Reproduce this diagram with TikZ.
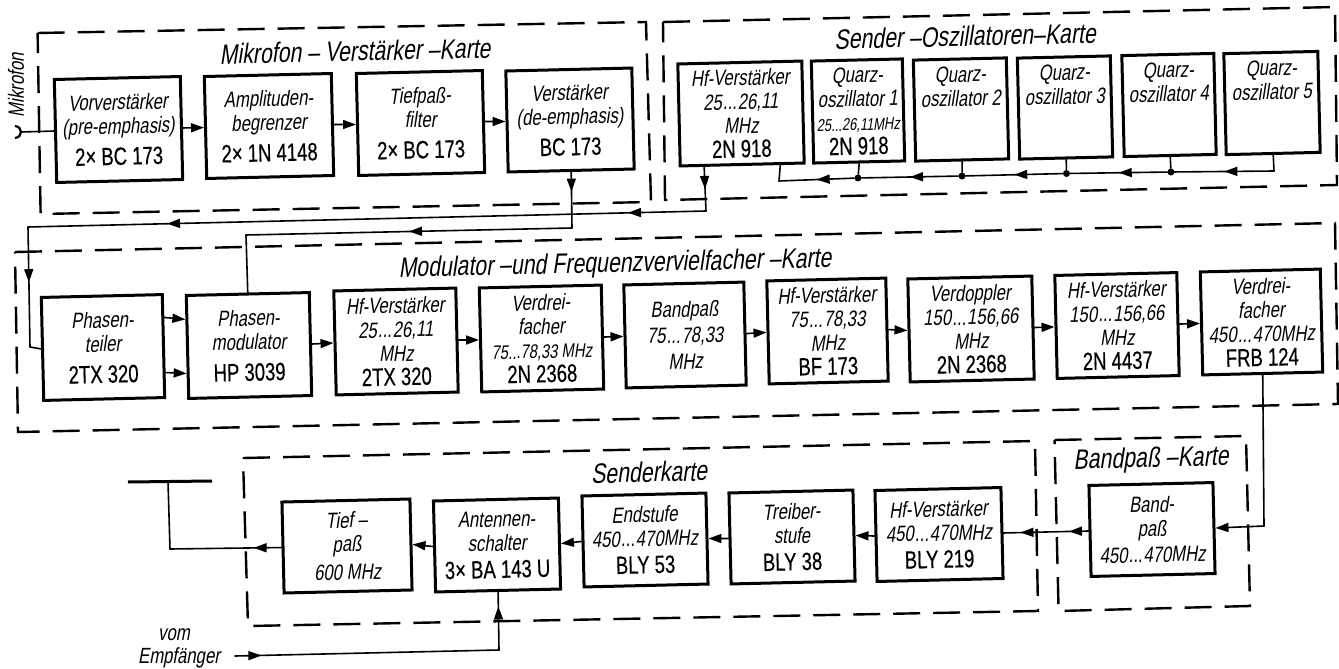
\documentclass[tikz,border=0pt]{standalone}
\usepackage{fontspec}
\usetikzlibrary{arrows.meta,calc,decorations.markings}
\setmainfont{Liberation Sans}
\newfontfamily\itf[FakeSlant=.18,FakeStretch=.76]{Liberation Sans}
\newfontfamily\upf[FakeStretch=.74,FakeBold=.4]{Liberation Sans}
\newcommand{\IT}{\itf\fontsize{22}{24}\selectfont}
\newcommand{\UP}[1]{{\upf\fontsize{25}{24}\selectfont #1}}
\newcommand{\SM}[1]{{\itf\fontsize{19.5}{24}\selectfont #1}}
\newcommand{\dd}{\kern1pt...\kern1pt}
\tikzset{
  x=1pt,y=-1pt,
  >={Triangle[length=13pt,width=9pt]},
  card/.style={line width=2.4pt,dash pattern=on 27pt off 13pt,line join=miter},
  box/.style={draw,line width=3pt,rotate=1.35,align=center,font=\IT,inner sep=0pt,minimum width=#1},
  box/.default=124pt,
  wire/.style={line width=1.6pt,line cap=round},
  mid/.style={postaction={decorate,decoration={markings,mark=at position #1 with {\arrow{>}}}}},
  dot/.style={circle,fill=black,inner sep=0pt,minimum size=7pt},
  title/.style={font=\itf\fontsize{28}{28}\selectfont,rotate=1.35,inner sep=0pt},
}
\begin{document}
\begin{tikzpicture}
\useasboundingbox (0,0) rectangle (1339,669);
% cards
\draw[card] (37.6,33) -- (646,22) -- (651,202) -- (40.6,214) -- cycle;
\draw[card] (663,22) -- (1335,7) -- (1337,185) -- (665,200) -- cycle;
\draw[card] (15,252) -- (1335,223) -- (1338,404) -- (18,432) -- cycle;
\draw[card] (243,458) -- (1035,441) -- (1038,611) -- (248,626) -- cycle;
\draw[card] (1054.5,440) -- (1246,436) -- (1250,606) -- (1058.6,611) -- cycle;
% titles
\node[title] (t1) at (355,51) {Mikrofon – Verstärker –Karte};
\node[title] (t2) at (965,36) {Sender –Oszillatoren–Karte};
\node[title] (t3) at (615,265) {Modulator –und Frequenzvervielfacher –Karte};
\node[title] (t4) at (649,472) {Senderkarte};
\node[title] (t5) at (1151,460) {Bandpaß –Karte};
\node[font=\IT,rotate=90,inner sep=0pt] (mictext) at (16,85) {Mikrofon};
\node[font=\IT,inner sep=0pt] (vom) at (174,635) {vom};
\node[font=\IT,inner sep=0pt] (emp) at (179,658) {Empfänger};
% mic card boxes
\node[box=126pt,minimum height=103pt] (B1) at (118.5,129.5) {Vorverstärker\\(pre-emphasis)\\[7pt]\UP{2× BC 173}};
\node[box=127pt,minimum height=102pt] (B2) at (269,126) {Amplituden-\\begrenzer\\[7pt]\UP{2× 1N 4148}};
\node[box=126pt,minimum height=102pt] (B3) at (420.5,123) {Tiefpaß-\\filter\\[7pt]\UP{2× BC 173}};
\node[box=126pt,minimum height=101pt] (B4) at (570,120) {Verstärker\\(de-emphasis)\\[7pt]\UP{BC 173}};
% oscillator card boxes
\node[box=124pt,minimum height=102pt] (S0) at (741,113.5) {Hf-Verstärker\\25\dd 26,11\\MHz\\\UP{2N 918}};
\node[box=91pt,minimum height=102pt] (S1) at (858,111) {Quarz-\\oszillator 1\\{\itf\fontsize{17}{24}\selectfont 25...26,11MHz}\\\UP{2N 918}};
\node[box=93pt,minimum height=101pt] (S2) at (961,109.5) {Quarz-\\oszillator 2\\[22pt]\mbox{}};
\node[box=93pt,minimum height=101pt] (S3) at (1065,107.5) {Quarz-\\oszillator 3\\[22pt]\mbox{}};
\node[box=92pt,minimum height=101pt] (S4) at (1169,105) {Quarz-\\oszillator 4\\[22pt]\mbox{}};
\node[box=94pt,minimum height=101pt] (S5) at (1272,103) {Quarz-\\oszillator 5\\[22pt]\mbox{}};
% modulator card boxes
\node[box=121pt,minimum height=103pt] (P1) at (103,347.5) {Phasen-\\teiler\\[7pt]\UP{2TX 320}};
\node[box=123pt,minimum height=103pt] (P2) at (249,345.5) {Phasen-\\modulator\\[7pt]\UP{HP 3039}};
\node[box=122pt,minimum height=104pt] (P3) at (396,341.5) {Hf-Verstärker\\25\dd 26,11\\MHz\\\UP{2TX 320}};
\node[box=122pt,minimum height=104pt] (P4) at (541.5,338.5) {Verdrei-\\facher\\\SM{75...78,33 MHz}\\\UP{2N 2368}};
\node[box=120pt,minimum height=103pt] (P5) at (685,335) {Bandpaß\\[2pt]75\dd 78,33\\[2pt]MHz};
\node[box=119pt,minimum height=103pt] (P6) at (827.5,331) {Hf-Verstärker\\75\dd 78,33\\MHz\\\UP{BF 173}};
\node[box=124pt,minimum height=103pt] (P7) at (971,329) {Verdoppler\\150\dd 156,66\\MHz\\\UP{2N 2368}};
\node[box=122pt,minimum height=103pt] (P8) at (1117,325.5) {Hf-Verstärker\\150\dd 156,66\\MHz\\\UP{2N 4437}};
\node[box=120pt,minimum height=103pt] (P9) at (1261.5,322) {Verdrei-\\facher\\450\dd 470MHz\\\UP{FRB 124}};
% transmitter boxes
\node[box=124pt,minimum height=91pt] (BP) at (1152,529.5) {Band-\\paß\\[2pt]450\dd 470MHz};
\node[box=126pt,minimum height=91pt] (H) at (939,534.5) {Hf-Verstärker\\450\dd 470MHz\\[3pt]\UP{BLY 219}};
\node[box=124pt,minimum height=91pt] (T) at (792,537) {Treiber-\\stufe\\[3pt]\UP{BLY 38}};
\node[box=124pt,minimum height=91pt] (E) at (645,540) {Endstufe\\450\dd 470MHz\\[3pt]\UP{BLY 53}};
\node[box=125pt,minimum height=91pt] (A) at (497,545) {Antennen-\\schalter\\[3pt]\UP{3× BA 143 U}};
\node[box=128pt,minimum height=91pt] (TP) at (347,546) {Tief –\\paß\\[4pt]600 MHz};
% microphone
\coordinate (mic) at (21,132);
\draw[line width=2.2pt] (15,126) .. controls (23,127) and (23,137) .. (15,138);
\draw[wire] (mic) -- (B1.west);
% forward arrows
\foreach \a/\b in {B1/B2,B2/B3,B3/B4,P2/P3,P3/P4,P4/P5,P5/P6,P6/P7,P7/P8,P8/P9}
  \draw[wire,->] (\a.east) -- (\b.west);
\foreach \a/\b in {H/T,T/E,E/A,A/TP}
  \draw[wire,->] (\a.west) -- (\b.east);
\draw[wire,->] ($(P1.north east)!.23!(P1.south east)$) -- ($(P2.north west)!.24!(P2.south west)$);
\draw[wire,->] ($(P1.north east)!.75!(P1.south east)$) -- ($(P2.north west)!.75!(P2.south west)$);
% oscillator bus
\node[dot] (j1) at (858,178) {};
\node[dot] (j2) at (962,176) {};
\node[dot] (j3) at (1066.5,173.5) {};
\node[dot] (j4) at (1171,172) {};
\coordinate (b5) at (1274,171);
\coordinate (b0) at (779,181);
\draw[wire] (S1.south) -- (j1);
\draw[wire] (S2.south) -- (j2);
\draw[wire] (S3.south) -- (j3);
\draw[wire] (S4.south) -- (j4);
\draw[wire] (S5.south) -- (b5);
\draw[wire,mid=.5] (b5) -- (j4);
\draw[wire,mid=.5] (j4) -- (j3);
\draw[wire,mid=.5] (j3) -- (j2);
\draw[wire,mid=.5] (j2) -- (j1);
\draw[wire,mid=.5] (j1) -- (b0);
\draw[wire] (b0) -- ($(S0.south west)!.8!(S0.south east)$);
% oscillator signal to phase splitter
\coordinate (c3) at (706,211);
\coordinate (c4) at (28,227);
\coordinate (c5) at (30,347);
\draw[wire,mid=.5] ($(S0.south west)!.2!(S0.south east)$) -- (c3);
\draw[wire,mid=.115,mid=.795] (c3) -- (c4);
\draw[wire,mid=.46] (c4) -- (c5);
\draw[wire] (c5) -- (P1.west);
% audio to modulator
\coordinate (c1) at (572,228);
\coordinate (c2) at (246,235);
\draw[wire,mid=.35] (B4.south) -- (c1);
\draw[wire,mid=.5] (c1) -- (c2);
\draw[wire] (c2) -- (P2.north);
% multiplier to band pass
\coordinate (c6) at (1264,526);
\draw[wire] (P9.south) -- (c6);
\draw[wire,->] (c6) -- (BP.east);
\draw[wire,mid=.23,mid=.8] (BP.west) -- (H.east);
% antenna
\coordinate (ant1) at (128,482);
\coordinate (ant2) at (212,481);
\coordinate (c8) at (168,481.5);
\coordinate (c7) at (170,549);
\draw[line width=3pt] (ant1) -- (ant2);
\draw[wire,mid=.25] (TP.west) -- (c7);
\draw[wire] (c7) -- (c8);
% receiver
\coordinate (e1) at (235,656);
\coordinate (e2) at (499,650);
\draw[wire,mid=.1] (e1) -- (e2);
\draw[wire,mid=.75] (e2) -- (A.south);
\end{tikzpicture}
\end{document}
